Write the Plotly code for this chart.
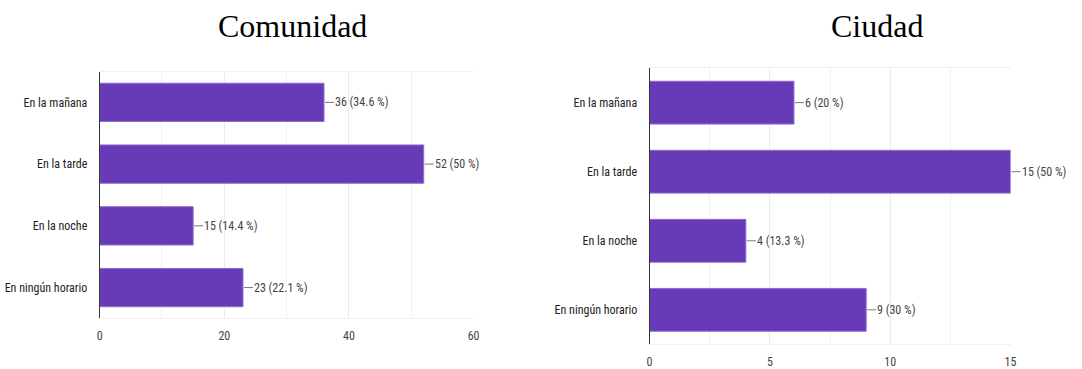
import plotly.graph_objects as go

# Survey answers: preferred time of day, two groups
categories = ["En la mañana", "En la tarde", "En la noche", "En ningún horario"]
comunidad_counts = [36, 52, 15, 23]
comunidad_pct = ["34.6", "50", "14.4", "22.1"]
ciudad_counts = [6, 15, 4, 9]
ciudad_pct = ["20", "50", "13.3", "30"]
titles = ["Comunidad", "Ciudad"]

W, H = 1082, 369
BAR = "#673ab7"
LABEL_FONT = "Liberation Sans Narrow, Roboto Condensed, Arial Narrow, Roboto, sans-serif"

fig = go.Figure()

panels = [
    dict(counts=comunidad_counts, pct=comunidad_pct, xa="x", ya="y",
         xdom=[97.5 / W, 474.5 / W], ydom=[1 - 319.3 / H, 1 - 71.7 / H],
         rng=[0, 60], major=20, minor=10, title_x=292 / W),
    dict(counts=ciudad_counts, pct=ciudad_pct, xa="x2", ya="y2",
         xdom=[652 / W, 1016 / W], ydom=[1 - 345.3 / H, 1 - 68.3 / H],
         rng=[0, 15], major=5, minor=2.5, title_x=881 / W),
]

annotations = []
for i, p in enumerate(panels):
    fig.add_trace(go.Bar(
        x=p["counts"], y=categories, orientation="h",
        marker=dict(color=BAR, line=dict(color="#8e6bcc", width=1)),
        width=0.62, xaxis=p["xa"], yaxis=p["ya"], showlegend=False,
        hoverinfo="x+y",
    ))
    for c, v, pc in zip(categories, p["counts"], p["pct"]):
        annotations.append(dict(
            x=v, y=c, xref=p["xa"], yref=p["ya"],
            text=f"{v} ({pc} %)", showarrow=True, arrowhead=0,
            arrowwidth=1, arrowcolor="#777777", ax=10, ay=0,
            xanchor="left", yanchor="middle", borderpad=0, standoff=1,
            font=dict(family=LABEL_FONT, size=12, color="#444444"),
        ))
    annotations.append(dict(
        x=p["title_x"], y=1 - 26 / H, xref="paper", yref="paper",
        text=titles[i], showarrow=False, xanchor="center", yanchor="middle",
        font=dict(family="Liberation Serif, Times New Roman, serif", size=32, color="#000000"),
    ))

    axis_suffix = "" if i == 0 else "2"
    fig.layout["xaxis" + axis_suffix] = dict(
        domain=p["xdom"], anchor=p["ya"], range=p["rng"], dtick=p["major"],
        showgrid=True, gridcolor="#ebebeb", gridwidth=1,
        minor=dict(dtick=p["minor"], showgrid=True, gridcolor="#f0f0f0"),
        showline=True, linecolor="#f0f0f0", mirror=True, zeroline=False,
        ticks="", ticklabelstandoff=6,
        tickfont=dict(family=LABEL_FONT, size=12, color="#444444"),
        fixedrange=True,
    )
    fig.layout["yaxis" + axis_suffix] = dict(
        domain=p["ydom"], anchor=p["xa"], autorange="reversed",
        showline=True, linecolor="#333333", linewidth=1, showgrid=False,
        ticks="", ticklabelstandoff=9,
        tickfont=dict(family=LABEL_FONT, size=12, color="#222222"),
        fixedrange=True,
    )

fig.update_layout(
    width=W, height=H, margin=dict(l=0, r=0, t=0, b=0),
    paper_bgcolor="white", plot_bgcolor="white",
    bargap=0.38, annotations=annotations,
)

fig.write_html("out.html")
